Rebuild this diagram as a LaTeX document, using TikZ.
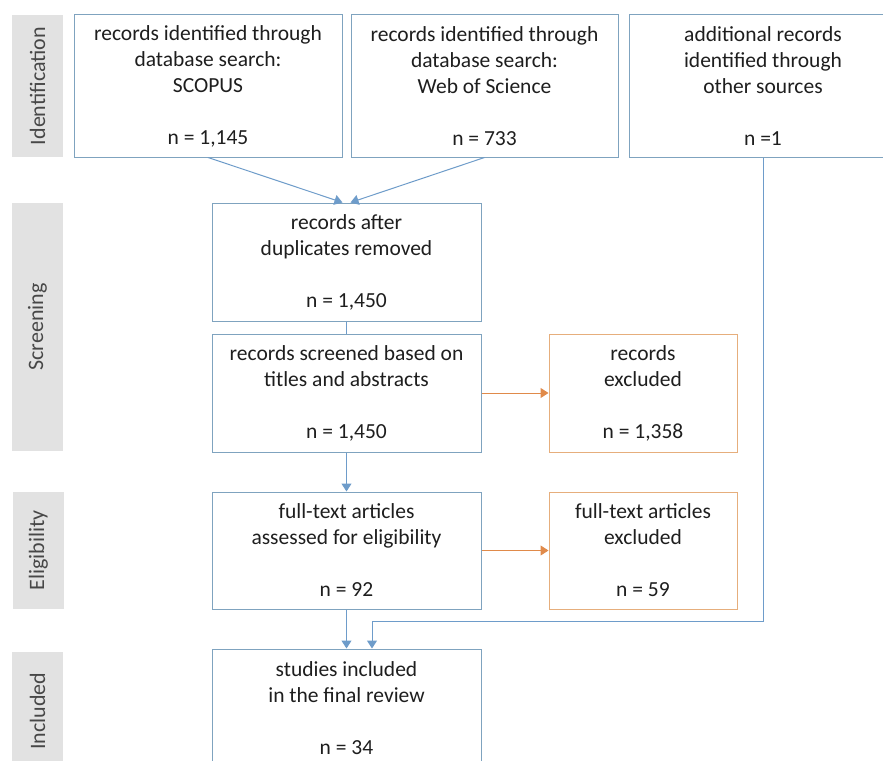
\documentclass[tikz,border=0pt]{standalone}
\usepackage{fontspec}
\setmainfont{Carlito}
\usetikzlibrary{arrows.meta}
\definecolor{boxblue}{HTML}{7FA3BF}
\definecolor{arrblue}{HTML}{6E9CCA}
\definecolor{boxor}{HTML}{E6AE7C}
\definecolor{arror}{HTML}{E08A4A}
\definecolor{bargray}{HTML}{E2E2E2}
\definecolor{txt}{HTML}{1E1E1E}
\begin{document}
\begin{tikzpicture}[x=1pt,y=-1pt,
  every node/.style={font=\fontsize{21.5}{26}\selectfont, text=txt},
  bbox/.style={draw=boxblue, line width=1pt, align=center, inner sep=0pt, fill=white},
  obox/.style={bbox, draw=boxor},
  bar/.style={fill=bargray, draw=none, inner sep=0pt, text=black!72, rotate=90, minimum height=51pt, font=\fontsize{22}{26}\selectfont},
  barr/.style={draw=arrblue, line width=1pt, -{Triangle[width=10pt,length=8pt]}},
  bline/.style={draw=arrblue, line width=1pt},
  oarr/.style={draw=arror, line width=1pt, -{Triangle[width=10pt,length=8pt]}}
]
\useasboundingbox (0,0) rectangle (883,760);
\clip (0,0) rectangle (883,760);
\fill[white] (0,0) rectangle (883,760);

% stage bars
\node[bar, minimum width=142pt] (l1) at (37.5,86) {Identification};
\node[bar, minimum width=248pt] (l2) at (37.5,327) {Screening};
\node[bar, minimum width=117pt] (l3) at (38.5,550.5) {Eligibility};
\node[bar, minimum width=118pt] (l4) at (37.5,711) {Included};

% boxes
\node[bbox, minimum width=268pt, minimum height=142pt] (b1) at (208,86)
  {records identified through\\database search:\\SCOPUS\\[26pt]n = 1,145};
\node[bbox, minimum width=267pt, minimum height=142pt] (b2) at (484.5,86)
  {records identified through\\database search:\\Web of Science\\[26pt]n = 733};
\node[bbox, minimum width=268pt, minimum height=142pt] (b3) at (763,86)
  {additional records\\identified through\\other sources\\[26pt]n =1};
\node[bbox, minimum width=269pt, minimum height=118pt] (b4) at (346.5,262)
  {records after\\duplicates removed\\[26pt]n = 1,450};
\node[bbox, minimum width=269pt, minimum height=118pt] (b5) at (346.5,393)
  {records screened based on\\titles and abstracts\\[26pt]n = 1,450};
\node[obox, minimum width=188pt, minimum height=118pt] (b6) at (643,393)
  {records\\excluded\\[26pt]n = 1,358};
\node[bbox, minimum width=269pt, minimum height=117pt] (b7) at (346.5,550.5)
  {full-text articles\\assessed for eligibility\\[26pt]n = 92};
\node[obox, minimum width=188pt, minimum height=117pt] (b8) at (643,550.5)
  {full-text articles\\excluded\\[26pt]n = 59};
\node[bbox, minimum width=269pt, minimum height=118pt] (b9) at (346.5,708)
  {studies included\\in the final review\\[26pt]n = 34};

% connectors
\draw[barr] (b1.south) -- ([xshift=-4pt]b4.north);
\draw[barr] (b2.south) -- ([xshift=4pt]b4.north);
\draw[bline] (b4.south) -- (b5.north);
\draw[barr] (b5.south) -- (b7.north);
\draw[barr] (b7.south) -- (b9.north);
\coordinate (k1) at (763,621);
\coordinate (k2) at (372,621);
\draw[barr] (b3.south) -- (k1) -- (k2) -- (k2 |- b9.north);
\draw[oarr] (b5.east) -- (b6.west);
\draw[oarr] (b7.east) -- (b8.west);
\end{tikzpicture}
\end{document}
